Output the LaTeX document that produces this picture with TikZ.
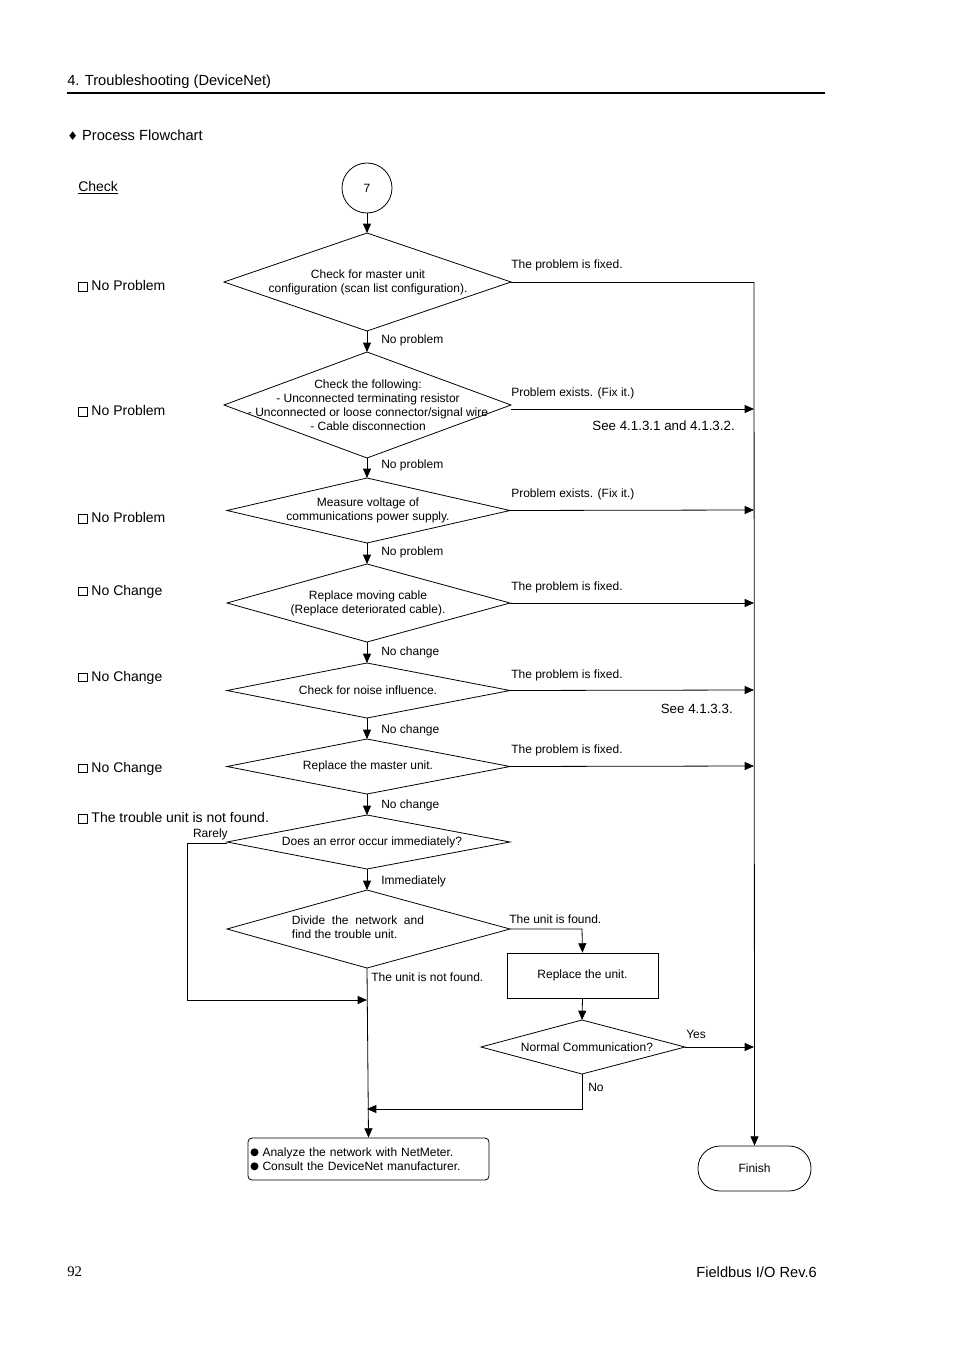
\documentclass[tikz,border=0pt]{standalone}
\usepackage{fontspec}
\setmainfont{Liberation Sans}
\newfontfamily\dejavu{DejaVu Sans}
\usetikzlibrary{arrows.meta}
\newcommand{\ebox}{\tikz[baseline=0pt]\draw[line width=0.5pt] (0,0) rectangle (6.5pt,6.5pt);}
\newcommand{\fbx}{\tikz[baseline=0pt]\fill (0,0) rectangle (6pt,6pt);}
\begin{document}
\begin{tikzpicture}[x=0.75pt,y=-0.75pt,
  ln/.style={line width=0.6pt},
  ar/.style={ln,-{Triangle[length=7pt,width=6pt]}},
  sm/.style={font=\fontsize{9}{10.5}\selectfont,inner sep=0pt},
  lb/.style={font=\fontsize{9}{10.5}\selectfont,inner sep=0pt,anchor=west},
  lf/.style={font=\fontsize{10.5}{12}\selectfont,inner sep=0pt,anchor=west}]
\useasboundingbox (0,0) rectangle (954,1351);
% header
\node[lf,font=\fontsize{11}{13}\selectfont] (hd) at (67,82) {4. Troubleshooting (DeviceNet)};
\draw[line width=1.3pt] (67,93) -- (825,93);
\node[lf,font=\fontsize{11}{13}\selectfont] (pf) at (67,135) {{\dejavu\fontsize{9}{10}\selectfont ♦} Process Flowchart};
\node[lf] (chk) at (78,188) {\underline{Check}};
% left labels
\foreach \y/\t [count=\i] in {286/No Problem,411/No Problem,518/No Problem,592/No Change,678/No Change,769/No Change,818/The trouble unit is not found.}
  \node[lf] (L\i) at (78,\y) {\ebox\ \t};
% start
\node[draw,ln,circle,minimum size=50*0.75pt,inner sep=0pt,font=\fontsize{9}{10}\selectfont] (c7) at (367,188) {7};
% diamonds
\newcommand{\dia}[6]{% name, top, bottom, left, right, text
  \coordinate (#1t) at (367,#2); \coordinate (#1b) at (367,#3);
  \coordinate (#1l) at (#4,{(#2+#3)/2}); \coordinate (#1r) at (#5,{(#2+#3)/2});
  \draw[ln] (#1t) -- (#1r) -- (#1b) -- (#1l) -- cycle;
  \node[sm,align=center] (#1c) at (368,{(#2+#3)/2}) {#6};}
\dia{d1}{233}{331}{224}{511}{Check for master unit\\configuration (scan list configuration).}
\dia{d2}{352}{458}{224}{511}{Check the following:\\- Unconnected terminating resistor\\- Unconnected or loose connector/signal wire\\- Cable disconnection}
\dia{d3}{478}{543}{227}{510}{Measure voltage of\\communications power supply.}
\dia{d4}{564}{642}{227}{510}{Replace moving cable\\(Replace deteriorated cable).}
\dia{d5}{663}{718}{227}{510}{Check for noise influence.}
\dia{d6}{739}{794}{227}{510}{Replace the master unit.}
\dia{d7}{815}{869}{227}{510}{\hspace*{6pt}Does an error occur immediately?}
\dia{d8}{890}{968}{227}{510}{\hspace*{-15pt}\begin{tabular}{@{}l@{}}Divide\ \ the\ \ network\ \ and\\find the trouble unit.\end{tabular}}
% vertical arrows
\draw[ar] (c7) -- (d1t);
\draw[ar] (d1b) -- (d2t); \draw[ar] (d2b) -- (d3t); \draw[ar] (d3b) -- (d4t);
\draw[ar] (d4b) -- (d5t); \draw[ar] (d5b) -- (d6t); \draw[ar] (d6b) -- (d7t); \draw[ar] (d7b) -- (d8t);
\node[lb] at (381,340) {No problem};
\node[lb] at (381,465) {No problem};
\node[lb] at (381,552) {No problem};
\node[lb] at (381,652) {No change};
\node[lb] at (381,730) {No change};
\node[lb] at (381,805) {No change};
\node[lb] at (381,881) {Immediately};
% right side
\node[draw,ln,rounded corners=22*0.75pt,minimum width=113*0.75pt,minimum height=45*0.75pt,sm] (fin) at (754.5,1168.5) {Finish};
\coordinate (rr) at (754,282);
\draw[ln] (d1r) -- (rr); \draw[ar] (rr) -- (fin.north);
\node[lb] at (511,265) {The problem is fixed.};
\coordinate (a2) at (754,409); \draw[ar] (511,409) -- (a2);
\node[lb] at (511,393) {Problem exists. (Fix it.)};
\node[sm,anchor=east,font=\fontsize{10}{12}\selectfont] at (735,426) {See 4.1.3.1 and 4.1.3.2.};
\coordinate (a3) at (754,510); \draw[ar] (d3r) -- (a3);
\node[lb] at (511,494) {Problem exists. (Fix it.)};
\coordinate (a4) at (754,603); \draw[ar] (d4r) -- (a4);
\node[lb] at (511,587) {The problem is fixed.};
\coordinate (a5) at (754,690); \draw[ar] (d5r) -- (a5);
\node[lb] at (511,675) {The problem is fixed.};
\node[sm,anchor=east,font=\fontsize{10}{12}\selectfont] at (733,709) {See 4.1.3.3.};
\coordinate (a6) at (754,766); \draw[ar] (d6r) -- (a6);
\node[lb] at (511,750) {The problem is fixed.};
% rarely loop
\node[lb,anchor=east] at (228,834) {Rarely};
\coordinate (k1) at (187,843); \coordinate (k2) at (187,1000); \coordinate (k3) at (367,1000);
\draw[ar] (227,843) -- (k1) -- (k2) -- (k3);
% unit found
\node[draw,ln,minimum width=151*0.75pt,minimum height=45*0.75pt,sm] (rep) at (582.5,975.5) {Replace the unit.};
\coordinate (f1) at (582,929);
\draw[ar] (d8r) -- (f1) -- (rep.north);
\node[lb] at (509,919) {The unit is found.};
\node[lb] at (371,977) {The unit is not found.};
% normal communication
\coordinate (n9t) at (582,1020); \coordinate (n9b) at (582,1074);
\coordinate (n9l) at (481,1047); \coordinate (n9r) at (685,1047);
\draw[ln] (n9t) -- (n9r) -- (n9b) -- (n9l) -- cycle;
\node[sm] (n9c) at (587,1047) {Normal Communication?};
\draw[ar] (rep.south) -- (n9t);
\coordinate (y1) at (754,1047); \draw[ar] (n9r) -- (y1);
\node[lb] at (686,1034) {Yes};
\node[lb] at (588,1087) {No};
% analyze
\node[draw,ln,rounded corners=3pt,minimum width=241*0.75pt,minimum height=42*0.75pt,sm,align=left,text width=236*0.75pt] (an) at (368.5,1159) {\fbx\ Analyze the network with NetMeter.\\ \fbx\ Consult the DeviceNet manufacturer.};
\draw[ar] (d8b) -- (an.north);
\coordinate (m1) at (582,1109); \coordinate (m2) at (367,1109);
\draw[ar] (n9b) -- (m1) -- (m2);
% footer
\node[anchor=west,inner sep=0pt,font=\rmfamily\fontsize{11}{13}\selectfont] (pg) at (67,1272) {\fontspec{Liberation Serif}92};
\node[anchor=east,inner sep=0pt,font=\fontsize{11}{13}\selectfont] (ft) at (817,1272) {Fieldbus I/O Rev.6};
\end{tikzpicture}
\end{document}
